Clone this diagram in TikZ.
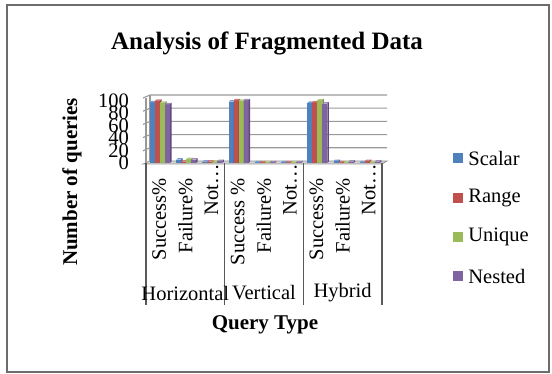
\documentclass[tikz,border=0pt]{standalone}
\usepackage{fontspec}
\setmainfont{Liberation Serif}
\usetikzlibrary{positioning}

\definecolor{scalarblue}{HTML}{4F81BD}
\definecolor{rangered}{HTML}{C0504D}
\definecolor{uniquegreen}{HTML}{9BBB59}
\definecolor{nestedpurple}{HTML}{8064A2}

\begin{document}
\begin{tikzpicture}[
    x=1pt,
    y=-1pt,
    frame/.style={draw=gray!85!black, line width=1.4pt},
    grid line/.style={draw=gray!80, line width=1.1pt},
    separator/.style={draw=gray!70!black, line width=1.1pt},
    tick text/.style={font=\fontsize{20.5}{24}\selectfont, inner sep=0pt},
    axis title/.style={font=\fontsize{21}{24}\selectfont\bfseries, inner sep=0pt},
    chart title/.style={font=\fontsize{25}{30}\selectfont\bfseries, inner sep=0pt},
    key box/.style={minimum size=10pt, inner sep=0pt},
]

    \useasboundingbox (0,0) rectangle (552,374);
    \draw[frame] (7,5) rectangle (549,372);

    \node[chart title] (title) at (267,43) {Analysis of Fragmented Data};

    % walls and floor
    \foreach \v in {20,40,...,100}
        \draw[grid line] (143,{164-0.66*\v}) -- (150,{161-0.66*\v}) -- (387,{161-0.66*\v});
    \draw[grid line] (150,95) -- (150,161);
    \draw[grid line] (146,98) -- (146,164);
    \filldraw[fill=gray!35, draw=gray!80, line width=0.8pt]
        (143,164) -- (150,161) -- (387,161) -- (382,164) -- cycle;

    \foreach \v in {0,20,...,100}
        \node[tick text, anchor=east] (tick\v) at (129,{163-0.625*\v}) {\v};

    % columns, one set of four per sub-category
    \foreach \k/\a/\b/\c/\d in {0/92/94/91/89, 1/5/2/6/5, 2/2/2/2/3,
                               3/93/95/94/95, 4/1/1/1/1, 5/1/1/1/1,
                               6/91/92/95/90, 7/3/1/1/2, 8/1/3/1/2} {
        \foreach \v/\col [count=\i from 0] in {\a/scalarblue, \b/rangered, \c/uniquegreen, \d/nestedpurple} {
            \pgfmathsetmacro\xl{146+\k*26.22+4+\i*5}
            \pgfmathsetmacro\yt{163-0.66*\v}
            \fill[\col] (\xl,163) rectangle ({\xl+5},\yt);
            \fill[\col!75!white] (\xl,\yt) -- ++(1.5,-1.5) -- ++(5,0) -- ++(-1.5,1.5) -- cycle;
            \fill[\col!75!black] ({\xl+5},\yt) -- ++(1.5,-1.5) -- ({\xl+6.5},161.5) -- ({\xl+5},163) -- cycle;
        }
    }

    % category axis
    \foreach \j in {0,...,3}
        \draw[separator] ({146+\j*78.67},163) -- ({146+\j*78.67},305);

    \foreach \g/\name in {0/Horizontal, 1/Vertical, 2/Hybrid} {
        \node[tick text] (group\g) at ({185.3+\g*78.67},293) {\name};
        \node[tick text, rotate=90, anchor=east] (succ\g) at ({159.1+\g*78.67},178)
            {\ifnum\g=1 Success \%\else Success\%\fi};
        \node[tick text, rotate=90, anchor=east] (fail\g) at ({185.3+\g*78.67},178) {Failure\%};
        \node[tick text, rotate=90, anchor=east] (not\g) at ({211.5+\g*78.67},164) {Not…};
    }

    \node[axis title, rotate=90] (y title) at (72,182) {Number of queries};
    \node[axis title] (x title) at (265,325) {Query Type};

    % legend
    \node[key box, fill=scalarblue]   (key scalar) at (458,158) {};
    \node[key box, fill=rangered]     (key range)  at (458,198) {};
    \node[key box, fill=uniquegreen]  (key unique) at (458,237) {};
    \node[key box, fill=nestedpurple] (key nested) at (458,276) {};
    \node[tick text, right=5pt of key scalar] {Scalar};
    \node[tick text, right=5pt of key range]  {Range};
    \node[tick text, right=5pt of key unique] {Unique};
    \node[tick text, right=5pt of key nested] {Nested};

\end{tikzpicture}
\end{document}
